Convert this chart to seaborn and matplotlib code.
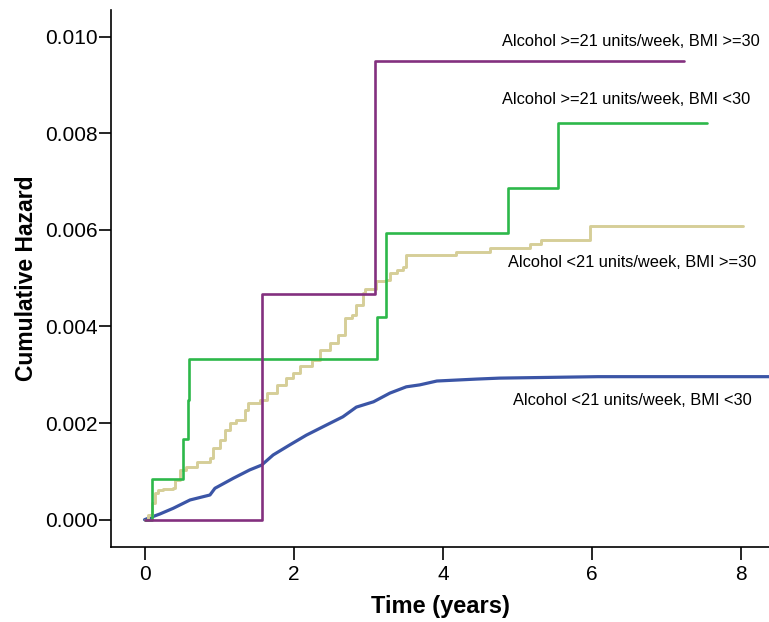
import matplotlib
matplotlib.use("Agg")
import matplotlib.pyplot as plt
import seaborn as sns
import pandas as pd

# ---- data ----
# Alcohol >=21 units/week, BMI >=30 (purple)
hi_hi_t = [0.0, 1.574, 3.09, 7.24]
hi_hi_h = [0.0, 0.00467, 0.0095, 0.0095]

# Alcohol >=21 units/week, BMI <30 (green)
hi_lo_t = [0.0, 0.10, 0.52, 0.586, 0.595, 3.12, 3.236, 4.875, 5.546, 7.54]
hi_lo_h = [0.0, 0.00084, 0.00166, 0.00248, 0.00333, 0.00419, 0.00594, 0.00687, 0.0082, 0.0082]

# Alcohol <21 units/week, BMI >=30 (beige)
lo_hi_t = [0.0, 0.05, 0.095, 0.14, 0.18, 0.25, 0.385, 0.41, 0.47, 0.56, 0.70, 0.88, 0.92,
           1.01, 1.08, 1.14, 1.23, 1.35, 1.39, 1.55, 1.64, 1.77, 1.90, 1.99, 2.08, 2.24,
           2.35, 2.49, 2.60, 2.69, 2.78, 2.84, 2.93, 2.95, 3.11, 3.24, 3.29, 3.38, 3.47,
           3.50, 4.18, 4.63, 5.17, 5.32, 5.97, 8.03]
lo_hi_h = [0.0, 0.0001, 0.00034, 0.00055, 0.00062, 0.00063, 0.00065, 0.00082, 0.00103, 0.0011,
           0.0012, 0.00127, 0.00148, 0.00165, 0.00186, 0.002, 0.00206, 0.00227, 0.00241,
           0.00248, 0.00262, 0.00279, 0.00293, 0.00303, 0.00318, 0.00331, 0.00351, 0.00365,
           0.00382, 0.00417, 0.00424, 0.00445, 0.00469, 0.00477, 0.00493, 0.00496, 0.0051,
           0.00517, 0.00524, 0.00548, 0.00555, 0.00562, 0.0057, 0.00579, 0.00608, 0.00608]

# Alcohol <21 units/week, BMI <30 (blue)
lo_lo_t = [0.0, 0.206, 0.385, 0.61, 0.877, 0.944, 1.19, 1.41, 1.57, 1.725, 1.95, 2.17, 2.44,
           2.66, 2.84, 3.07, 3.29, 3.51, 3.69, 3.92, 4.45, 4.76, 6.08, 8.6]
lo_lo_h = [0.0, 0.000118, 0.000236, 0.000408, 0.000511, 0.00065, 0.000857, 0.00103, 0.00113,
           0.00134, 0.00155, 0.00175, 0.00196, 0.00213, 0.00233, 0.00244, 0.00262, 0.00275,
           0.00279, 0.00287, 0.00291, 0.00293, 0.00296, 0.00296]

labels = ["Alcohol >=21 units/week, BMI >=30",
          "Alcohol >=21 units/week, BMI <30",
          "Alcohol <21 units/week, BMI >=30",
          "Alcohol <21 units/week, BMI <30"]
label_x = [4.79, 4.79, 4.871, 4.942]
label_y = [0.009897, 0.008689, 0.005315, 0.002458]

x_ticks = [0, 2, 4, 6, 8]
y_ticks = [0.000, 0.002, 0.004, 0.006, 0.008, 0.010]

# ---- plot ----
sns.set_style("ticks")
plt.rcParams["font.family"] = ["Liberation Sans", "DejaVu Sans"]

fig = plt.figure(figsize=(7.69, 6.22), dpi=100)
ax = fig.add_axes([0.1447, 0.121, 0.855, 0.863])

series = [
    (lo_lo_t, lo_lo_h, "#3B55A6", 2.3, None),
    (lo_hi_t, lo_hi_h, "#D6CE98", 2.1, "steps-post"),
    (hi_lo_t, hi_lo_h, "#2DB84A", 1.9, "steps-post"),
    (hi_hi_t, hi_hi_h, "#83307F", 1.9, "steps-post"),
]
for t, h, c, lw, ds in series:
    df = pd.DataFrame({"t": t, "h": h})
    kw = dict(drawstyle=ds) if ds else {}
    sns.lineplot(data=df, x="t", y="h", ax=ax, color=c, linewidth=lw,
                 estimator=None, sort=False, **kw)

for txt, x, y in zip(labels, label_x, label_y):
    ax.text(x, y, txt, fontsize=11.8, ha="left", va="center", color="black")

ax.set_xlim(-0.446, 8.37)
ax.set_ylim(-0.00056, 0.01055)
ax.set_xticks(x_ticks)
ax.set_xticklabels([str(v) for v in x_ticks])
ax.set_yticks(y_ticks)
ax.set_yticklabels([f"{v:.3f}" for v in y_ticks])
ax.tick_params(axis="both", labelsize=15, length=9, width=1.2, color="black",
               labelcolor="black", direction="out")
ax.tick_params(axis="y", pad=1)
ax.tick_params(axis="x", pad=4)

ax.set_xlabel("Time (years)", fontsize=17, fontweight="bold", labelpad=8, color="black")
ax.set_ylabel("Cumulative Hazard", fontsize=16.5, fontweight="bold", labelpad=5, color="black")

for s in ["top", "right"]:
    ax.spines[s].set_visible(False)
for s in ["left", "bottom"]:
    ax.spines[s].set_color("black")
    ax.spines[s].set_linewidth(1.2)

fig.savefig("out.png", dpi=100)
